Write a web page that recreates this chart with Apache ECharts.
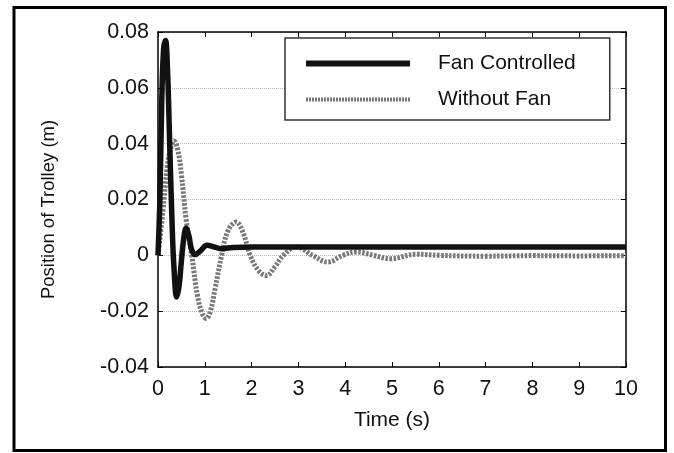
<!DOCTYPE html>
<html>
<head>
<meta charset="utf-8">
<script src="https://cdn.jsdelivr.net/npm/echarts@6/dist/echarts.min.js"></script>
<style>html,body{margin:0;padding:0;background:#fff}#c{width:674px;height:453px}</style>
</head>
<body>
<div id="c"></div>
<script>
var fanTime = [0, 0.04, 0.08, 0.12, 0.16, 0.2, 0.25, 0.3, 0.34, 0.4, 0.45, 0.5, 0.55, 0.6, 0.66, 0.72, 0.8, 0.9, 1.05, 1.2, 1.35, 1.6, 2, 10];
var fanValues = [0, 0.02, 0.055, 0.074, 0.077, 0.068, 0.04, 0.012, -0.004, -0.0149, -0.011, -0.002, 0.006, 0.0097, 0.007, 0.002, 0.0003, 0.0015, 0.0036, 0.003, 0.0024, 0.0028, 0.003, 0.003];
var noFanTime = [0, 0.1, 0.2, 0.28, 0.34, 0.42, 0.5, 0.6, 0.72, 0.85, 0.95, 1.03, 1.12, 1.22, 1.36, 1.5, 1.67, 1.82, 1.97, 2.15, 2.32, 2.5, 2.68, 2.96, 3.3, 3.63, 3.95, 4.24, 4.6, 4.96, 5.53, 6, 7, 8, 9, 10];
var noFanValues = [0, 0.015, 0.032, 0.039, 0.041, 0.038, 0.029, 0.013, 0, -0.015, -0.021, -0.0226, -0.02, -0.012, 0, 0.009, 0.0119, 0.008, 0, -0.0055, -0.0072, -0.004, 0, 0.003, 0, -0.0024, 0, 0.0012, 0, -0.0012, 0.0004, 0, -0.0003, -0.0001, -0.0002, -0.0001];
var yTicks = [-0.04, -0.02, 0, 0.02, 0.04, 0.06, 0.08];
var xTicks = [0, 1, 2, 3, 4, 5, 6, 7, 8, 9, 10];

function pairs(xs, ys) { return xs.map(function (x, i) { return [x, ys[i]]; }); }

var chart = echarts.init(document.getElementById('c'));
var font = 'Liberation Sans, Arial, sans-serif';
chart.setOption({
  animation: false,
  backgroundColor: '#fff',
  graphic: [{
    type: 'rect', shape: { x: 14, y: 7.5, width: 651.5, height: 443 },
    style: { fill: 'none', stroke: '#000', lineWidth: 3 }, silent: true
  }],
  grid: { left: 158, top: 32, right: 48, bottom: 86 },
  legend: {
    left: 285, top: 38, orient: 'vertical',
    padding: [15, 34, 10, 18], itemGap: 15, itemWidth: 104, itemHeight: 20,
    borderColor: '#333', borderWidth: 1.5, backgroundColor: '#fff',
    itemStyle: { opacity: 0 },
    textStyle: { fontFamily: font, fontSize: 21, color: '#111', padding: [0, 0, 0, 23] },
    data: [
      { name: 'Fan Controlled', lineStyle: { width: 6, color: '#111' } },
      { name: 'Without Fan', lineStyle: { width: 4, color: '#777', type: [2, 1] } }
    ]
  },
  xAxis: [{
    type: 'value', min: 0, max: 10, interval: 1,
    name: 'Time (s)', nameLocation: 'middle', nameGap: 43,
    nameTextStyle: { fontFamily: font, fontSize: 21, color: '#111' },
    axisLine: { show: true, onZero: false, lineStyle: { color: '#000', width: 1.5 } },
    axisTick: { inside: true, length: 5, lineStyle: { color: '#000' } },
    axisLabel: { fontFamily: font, fontSize: 21.5, color: '#111', margin: 11, formatter: function (v) { return xTicks.indexOf(v) >= 0 ? String(v) : ''; } },
    splitLine: { show: false }
  }, {
    type: 'value', min: 0, max: 10, interval: 1, position: 'top',
    axisLine: { show: true, onZero: false, lineStyle: { color: '#000', width: 1.5 } },
    axisTick: { inside: true, length: 5, lineStyle: { color: '#000' } },
    axisLabel: { show: false }, splitLine: { show: false }
  }],
  yAxis: [{
    type: 'value', min: -0.04, max: 0.08, interval: 0.02,
    name: 'Position of Trolley (m)', nameLocation: 'middle', nameGap: 100,
    nameTextStyle: { fontFamily: font, fontSize: 18.5, color: '#111', padding: [0, 20, 0, 0] },
    axisLine: { show: true, onZero: false, lineStyle: { color: '#000', width: 1.5 } },
    axisTick: { inside: true, length: 5, lineStyle: { color: '#000' } },
    axisLabel: { fontFamily: font, fontSize: 21.5, color: '#111', margin: 9,
      formatter: function (v) {
        var r = Math.round(v * 100) / 100;
        for (var i = 0; i < yTicks.length; i++) { if (Math.abs(yTicks[i] - r) < 1e-9) { return r === 0 ? '0' : r.toFixed(2); } }
        return '';
      } },
    splitLine: { show: true, lineStyle: { color: '#bbb', type: 'dotted', width: 1 } }
  }, {
    type: 'value', min: -0.04, max: 0.08, interval: 0.02, position: 'right',
    axisLine: { show: true, onZero: false, lineStyle: { color: '#000', width: 1.5 } },
    axisTick: { inside: true, length: 5, lineStyle: { color: '#000' } },
    axisLabel: { show: false }, splitLine: { show: false }
  }],
  series: [{
    name: 'Without Fan', type: 'line', data: pairs(noFanTime, noFanValues),
    smooth: 0.4, symbol: 'none', z: 2,
    lineStyle: { color: '#777', width: 5, type: [2.5, 1.5] },
    itemStyle: { color: '#777' }
  }, {
    name: 'Fan Controlled', type: 'line', data: pairs(fanTime, fanValues),
    smooth: 0.4, symbol: 'none', z: 3,
    lineStyle: { color: '#111', width: 5.5 },
    itemStyle: { color: '#111' }
  }]
});
</script>
</body>
</html>
